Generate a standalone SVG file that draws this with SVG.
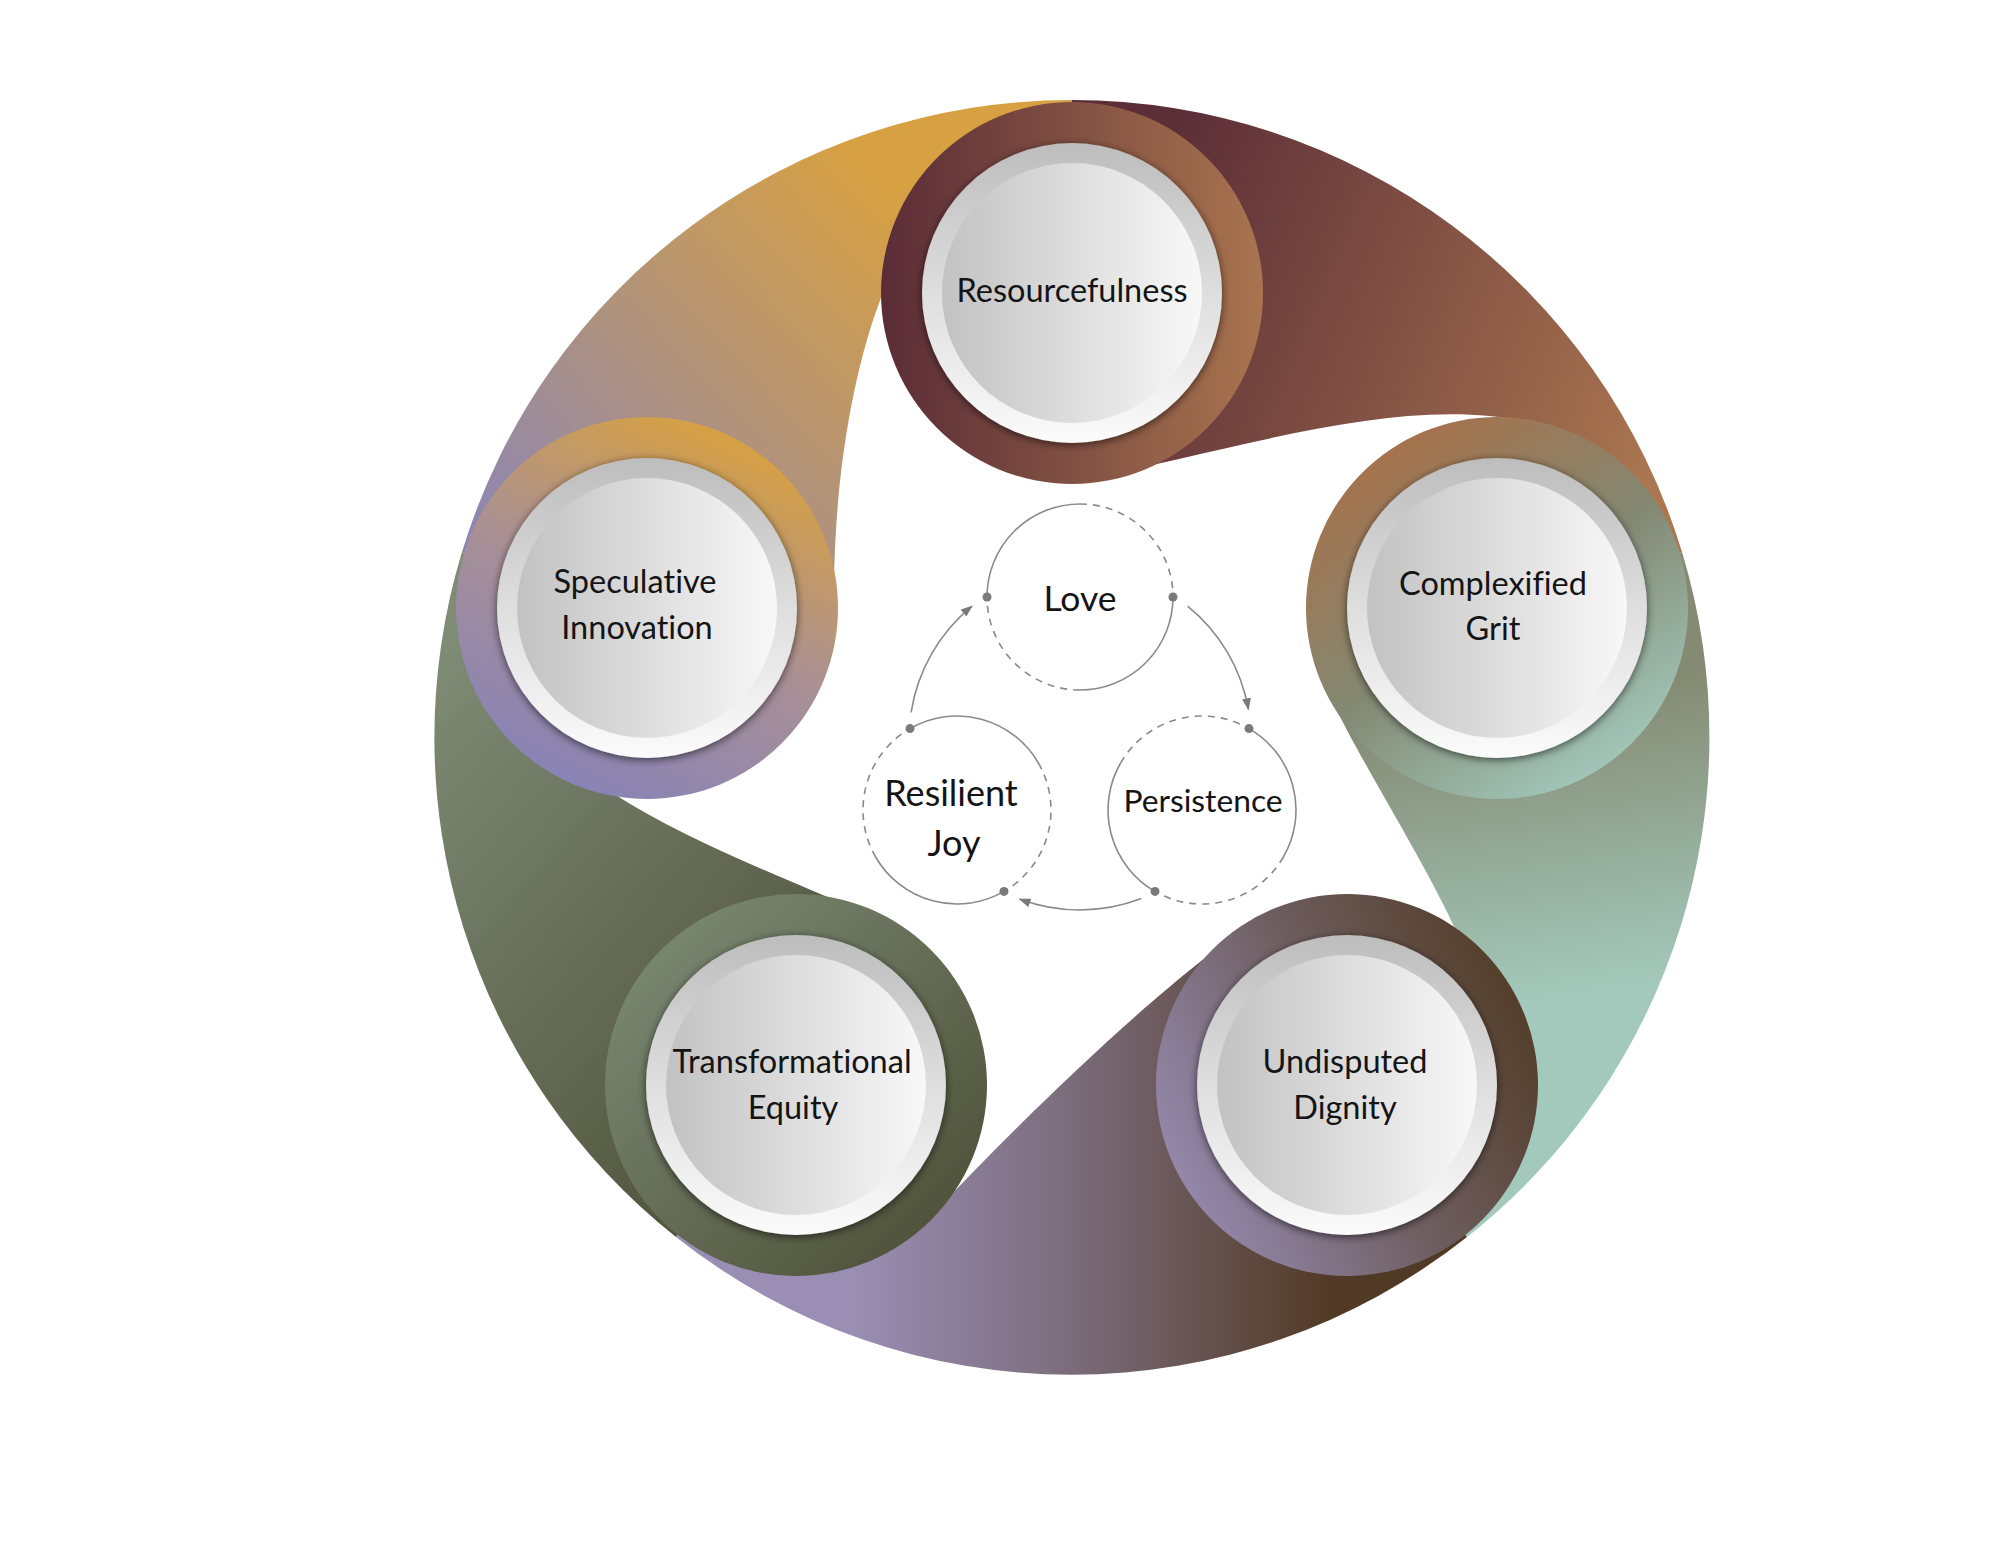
<svg xmlns="http://www.w3.org/2000/svg" width="2000" height="1545" viewBox="0 0 2000 1545">
<defs>
<style>
.lbl{font-family:Lato,"Open Sans","Liberation Sans",sans-serif;fill:#141414;text-anchor:middle;font-variant-ligatures:none;font-feature-settings:"liga" 0,"clig" 0,"dlig" 0}
.nt{font-size:32.5px}
.ct{font-size:36px}
.cs{fill:none;stroke:#8a8a8a;stroke-width:1.6}
.cd{fill:none;stroke:#8a8a8a;stroke-width:1.6;stroke-dasharray:7 6}
.dot{fill:#7a7a7a}
.con{fill:none;stroke:#8a8a8a;stroke-width:1.6;marker-end:url(#arr)}
.bevel{fill:url(#gBevel);filter:url(#sh)}
.face{fill:url(#gFace)}
</style>
<marker id="arr" viewBox="0 0 12 9" refX="11" refY="4.5" markerWidth="12" markerHeight="9" markerUnits="userSpaceOnUse" orient="auto">
<path d="M0,0 L12,4.5 L0,9 z" fill="#7a7a7a"/>
</marker>
<filter id="sh" x="-20%" y="-20%" width="140%" height="140%">
<feDropShadow dx="0" dy="2" stdDeviation="4" flood-color="#000" flood-opacity="0.6"/>
</filter>
<linearGradient id="gBevel" x1="0" y1="0" x2="0" y2="1">
<stop offset="0" stop-color="#bdbdbd"/><stop offset="0.5" stop-color="#dedede"/><stop offset="1" stop-color="#fbfbfb"/>
</linearGradient>
<linearGradient id="gFace" x1="0" y1="0" x2="1" y2="0">
<stop offset="0" stop-color="#c2c2c2"/><stop offset="1" stop-color="#f8f8f8"/>
</linearGradient>
<linearGradient id="gA" gradientUnits="userSpaceOnUse" x1="875" y1="180" x2="470" y2="560">
<stop offset="0" stop-color="#d6a043"/><stop offset="1" stop-color="#8a85b6"/>
</linearGradient>
<linearGradient id="gB" gradientUnits="userSpaceOnUse" x1="1120" y1="250" x2="1660" y2="480">
<stop offset="0" stop-color="#5b2e38"/><stop offset="1" stop-color="#ac7750"/>
</linearGradient>
<linearGradient id="gC" gradientUnits="userSpaceOnUse" x1="1500" y1="700" x2="1545" y2="1000">
<stop offset="0" stop-color="#858a72"/><stop offset="1" stop-color="#a3c9bc"/>
</linearGradient>
<linearGradient id="gD" gradientUnits="userSpaceOnUse" x1="850" y1="0" x2="1330" y2="0">
<stop offset="0" stop-color="#9a8eb4"/><stop offset="0.45" stop-color="#7c6d7d"/><stop offset="1" stop-color="#513a25"/>
</linearGradient>
<linearGradient id="gE" gradientUnits="userSpaceOnUse" x1="470" y1="620" x2="880" y2="980">
<stop offset="0" stop-color="#7e8b75"/><stop offset="1" stop-color="#53563f"/>
</linearGradient>
<linearGradient id="rR" x1="0" y1="0" x2="1" y2="0">
<stop offset="0" stop-color="#5a2c36"/><stop offset="1" stop-color="#a9744f"/>
</linearGradient>
<linearGradient id="rS" x1="0.72" y1="0.05" x2="0.28" y2="0.95">
<stop offset="0" stop-color="#d6a043"/><stop offset="0.5" stop-color="#a99095"/><stop offset="1" stop-color="#8983b5"/>
</linearGradient>
<linearGradient id="rCG" x1="0.2" y1="0.05" x2="0.8" y2="0.95">
<stop offset="0" stop-color="#a8714a"/><stop offset="0.5" stop-color="#838872"/><stop offset="1" stop-color="#a3cabd"/>
</linearGradient>
<linearGradient id="rUD" x1="0" y1="0.75" x2="1" y2="0.25">
<stop offset="0" stop-color="#978cb3"/><stop offset="0.5" stop-color="#6f5f62"/><stop offset="1" stop-color="#513b25"/>
</linearGradient>
<linearGradient id="rTE" x1="0.1" y1="0.1" x2="0.9" y2="0.9">
<stop offset="0" stop-color="#7a8872"/><stop offset="1" stop-color="#4f5139"/>
</linearGradient>
</defs>
<rect width="2000" height="1545" fill="#ffffff"/>

<g id="blades">
<path id="blade-speculative" fill="url(#gA)" d="M647,608 L462,552 A637,637 0 0 1 1072,100 L1072,293 L884,290 C852,370 835,480 834,585 Z"/>
<path id="blade-resourcefulness" fill="url(#gB)" d="M1072,293 L1072,100 A637,637 0 0 1 1682,552 L1497,608 L1555,429 C1420,386 1250,448 1075,481 Z"/>
<path id="blade-grit" fill="url(#gC)" d="M1497,608 L1682,552 A637,637 0 0 1 1467,1237 L1347,1085 L1457,933 C1420,850 1338,728 1318,666 Z"/>
<path id="blade-dignity" fill="url(#gD)" d="M1347,1085 L1467,1237 A637,637 0 0 1 676,1237 L796,1085 L929,1218 C1050,1090 1182,967 1264,916 Z"/>
<path id="blade-equity" fill="url(#gE)" d="M796,1085 L676,1237 A637,637 0 0 1 462,552 L647,608 L611,792 C700,850 820,890 905,932 Z"/>
</g>

<g id="node-resourcefulness">
<circle cx="1072" cy="293" r="191" fill="url(#rR)"/>
<circle class="bevel" cx="1072" cy="293" r="150"/>
<circle class="face" cx="1072" cy="293" r="130"/>
<text class="lbl nt" x="1072" y="302">Resourcefulness</text>
</g>
<g id="node-complexified-grit">
<circle cx="1497" cy="608" r="191" fill="url(#rCG)"/>
<circle class="bevel" cx="1497" cy="608" r="150"/>
<circle class="face" cx="1497" cy="608" r="130"/>
<text class="lbl nt" x="1493" y="595">Complexified</text>
<text class="lbl nt" x="1493" y="640">Grit</text>
</g>
<g id="node-undisputed-dignity">
<circle cx="1347" cy="1085" r="191" fill="url(#rUD)"/>
<circle class="bevel" cx="1347" cy="1085" r="150"/>
<circle class="face" cx="1347" cy="1085" r="130"/>
<text class="lbl nt" x="1345" y="1073">Undisputed</text>
<text class="lbl nt" x="1345" y="1119">Dignity</text>
</g>
<g id="node-transformational-equity">
<circle cx="796" cy="1085" r="191" fill="url(#rTE)"/>
<circle class="bevel" cx="796" cy="1085" r="150"/>
<circle class="face" cx="796" cy="1085" r="130"/>
<text class="lbl nt" x="792" y="1073">Transformational</text>
<text class="lbl nt" x="793" y="1119">Equity</text>
</g>
<g id="node-speculative-innovation">
<circle cx="647" cy="608" r="191" fill="url(#rS)"/>
<circle class="bevel" cx="647" cy="608" r="150"/>
<circle class="face" cx="647" cy="608" r="130"/>
<text class="lbl nt" x="635" y="593">Speculative</text>
<text class="lbl nt" x="637" y="639">Innovation</text>
</g>

<g id="node-love">
<path class="cs" d="M1173,597 A93,93 0 0 1 1080,690"/>
<path class="cd" d="M1080,690 A93,93 0 0 1 987,597"/>
<path class="cs" d="M987,597 A93,93 0 0 1 1080,504"/>
<path class="cd" d="M1080,504 A93,93 0 0 1 1173,597"/>
<circle class="dot" cx="1173" cy="597" r="4.5"/>
<circle class="dot" cx="987" cy="597" r="4.5"/>
<text class="lbl" style="font-size:35.5px" x="1080" y="611">Love</text>
</g>
<g id="node-persistence">
<path class="cs" d="M1249,728.6 A94,94 0 0 1 1283.4,857"/>
<path class="cd" d="M1283.4,857 A94,94 0 0 1 1155,891.4"/>
<path class="cs" d="M1155,891.4 A94,94 0 0 1 1120.6,763"/>
<path class="cd" d="M1120.6,763 A94,94 0 0 1 1249,728.6"/>
<circle class="dot" cx="1249" cy="728.6" r="4.5"/>
<circle class="dot" cx="1155" cy="891.4" r="4.5"/>
<text class="lbl" style="font-size:31.8px" x="1203" y="812">Persistence</text>
</g>
<g id="node-resilient-joy">
<path class="cs" d="M910,728.6 A94,94 0 0 1 1038.4,763"/>
<path class="cd" d="M1038.4,763 A94,94 0 0 1 1004,891.4"/>
<path class="cs" d="M1004,891.4 A94,94 0 0 1 875.6,857"/>
<path class="cd" d="M875.6,857 A94,94 0 0 1 910,728.6"/>
<circle class="dot" cx="910" cy="728.6" r="4.5"/>
<circle class="dot" cx="1004" cy="891.4" r="4.5"/>
<text class="lbl ct" x="951" y="806">Resilient</text>
<text class="lbl ct" x="954" y="856">Joy</text>
</g>

<g id="connectors">
<path class="con" d="M1187.6,606.1 A171,171 0 0 1 1248.4,709.3"/>
<path class="con" d="M1141.3,898.6 A171,171 0 0 1 1019.6,899.0"/>
<path class="con" d="M911.1,712.3 A171,171 0 0 1 972.0,606.1"/>
</g>
</svg>
